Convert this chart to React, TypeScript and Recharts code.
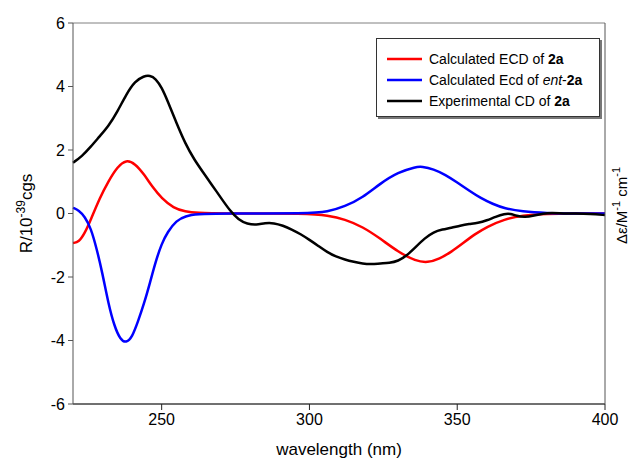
import React from "react";
import {
  LineChart,
  Line,
  XAxis,
  YAxis,
  CartesianGrid,
} from "recharts";

// calculated ECD of 2a
const redWl = [220, 222, 224, 226, 229, 232, 235, 238, 241, 244, 247, 250, 254, 258, 262, 270, 300, 306, 312, 318, 324, 330, 336, 340, 344, 348, 352, 356, 360, 366, 372, 380, 390, 400];
const redVal = [-0.93, -0.9, -0.62, -0.2, 0.48, 1.02, 1.47, 1.7, 1.57, 1.24, 0.82, 0.48, 0.17, 0.06, 0.02, 0, 0, -0.06, -0.18, -0.42, -0.79, -1.21, -1.5, -1.55, -1.43, -1.21, -0.93, -0.65, -0.42, -0.18, -0.06, -0.01, 0, 0];

// calculated ECD of ent-2a
const blueWl = [220, 222, 224, 226, 228, 230, 232, 234, 236, 238, 240, 242, 244, 246, 248, 250, 252, 255, 258, 262, 270, 300, 306, 312, 318, 324, 330, 336, 338, 342, 346, 350, 354, 358, 362, 366, 372, 380, 390, 400];
const blueVal = [0.18, 0.1, -0.1, -0.45, -1.1, -1.9, -2.85, -3.55, -3.97, -4.08, -3.9, -3.4, -2.85, -2.2, -1.5, -0.95, -0.58, -0.22, -0.08, -0.02, 0, 0, 0.05, 0.22, 0.5, 0.95, 1.3, 1.47, 1.48, 1.4, 1.22, 0.98, 0.72, 0.48, 0.3, 0.16, 0.06, 0.01, 0, 0];

// experimental CD of 2a
const blackWl = [220, 223, 226, 229, 232, 235, 238, 241, 244, 246, 248, 250, 252, 255, 258, 261, 264, 267, 270, 273, 276, 279, 282, 285, 288, 291, 294, 297, 300, 303, 306, 309, 312, 315, 318, 321, 324, 327, 330, 333, 336, 339, 342, 345, 348, 351, 354, 357, 360, 363, 366, 368, 370, 373, 376, 379, 382, 386, 390, 395, 400];
const blackVal = [1.6, 1.8, 2.1, 2.43, 2.75, 3.2, 3.75, 4.17, 4.33, 4.35, 4.25, 3.97, 3.55, 2.85, 2.2, 1.7, 1.3, 0.9, 0.5, 0.1, -0.2, -0.33, -0.36, -0.3, -0.3, -0.38, -0.5, -0.65, -0.83, -1.02, -1.22, -1.36, -1.45, -1.52, -1.58, -1.6, -1.57, -1.56, -1.5, -1.32, -1.05, -0.78, -0.58, -0.5, -0.45, -0.38, -0.33, -0.3, -0.22, -0.1, -0.01, 0, -0.08, -0.12, -0.06, 0, 0.02, 0, 0, -0.01, -0.05];

const xTicks = [250, 300, 350, 400];
const yTicks = [-6, -4, -2, 0, 2, 4, 6];

const toPoints = (wl: number[], v: number[]) => wl.map((w, i) => ({ wl: w, v: v[i] }));

const series = [
  { key: "red", color: "#ff0000", data: toPoints(redWl, redVal) },
  { key: "blue", color: "#0000ff", data: toPoints(blueWl, blueVal) },
  { key: "black", color: "#000000", data: toPoints(blackWl, blackVal) },
];

const font = "'Liberation Sans', Arial, sans-serif";

function LegendBox() {
  const rows = [
    { color: "#ff0000", text: <>Calculated ECD of <b>2a</b></> },
    { color: "#0000ff", text: <>Calculated Ecd of <i>ent</i>-<b>2a</b></> },
    { color: "#000000", text: <>Experimental CD of <b>2a</b></> },
  ];
  return (
    <div
      style={{
        position: "absolute",
        left: 376,
        top: 38,
        width: 224,
        height: 79,
        background: "#fff",
        border: "1px solid #333",
        boxShadow: "2px 2px 0 #777",
        fontFamily: font,
        fontSize: 14,
        color: "#000",
        boxSizing: "border-box",
        paddingTop: 9,
      }}
    >
      {rows.map((r, i) => (
        <div key={i} style={{ display: "flex", alignItems: "center", height: 21 }}>
          <svg width={52} height={6}>
            <line x1={10} x2={45} y1={3} y2={3} stroke={r.color} strokeWidth={2.5} />
          </svg>
          <span style={{ whiteSpace: "nowrap" }}>{r.text}</span>
        </div>
      ))}
    </div>
  );
}

export default function App() {
  return (
    <div style={{ position: "fixed", left: 0, top: 0, width: 639, height: 461, background: "#fff" }}>
      <LineChart width={639} height={461} margin={{ top: 23, right: 0, left: 0, bottom: 0 }}>
        <CartesianGrid horizontal vertical={false} stroke="#808080" strokeWidth={1} />
        <XAxis
          dataKey="wl"
          type="number"
          domain={[220, 400]}
          ticks={xTicks}
          allowDuplicatedCategory={false}
          height={57}
          stroke="#222"
          tickSize={6}
          tick={{ fill: "#000", fontSize: 16, fontFamily: font }}
          tickMargin={4}
          label={{ value: "wavelength (nm)", position: "insideBottom", offset: 6, fill: "#000", fontSize: 17, fontFamily: font }}
        />
        <YAxis
          yAxisId="l"
          type="number"
          domain={[-6, 6]}
          ticks={yTicks}
          width={73}
          stroke="#555"
          tickSize={5}
          tickMargin={3}
          tick={{ fill: "#000", fontSize: 16, fontFamily: font }}
          label={({ viewBox }: any) => (
            <text
              x={32}
              y={viewBox.y + viewBox.height / 2}
              transform={`rotate(-90, 32, ${viewBox.y + viewBox.height / 2})`}
              textAnchor="middle"
              fontSize={17}
              fontFamily={font}
              fill="#000"
            >
              R/10<tspan dy={-7} fontSize={12}>-39</tspan>
              <tspan dy={7}>cgs</tspan>
            </text>
          )}
        />
        <YAxis
          yAxisId="r"
          orientation="right"
          type="number"
          domain={[-6, 6]}
          ticks={yTicks}
          width={34}
          stroke="#555"
          tick={false}
          tickLine={false}
          label={({ viewBox }: any) => {
            const cx = 627;
            const cy = viewBox.y + viewBox.height / 2 - 8;
            return (
              <text
                x={cx}
                y={cy}
                transform={`rotate(-90, ${cx}, ${cy})`}
                textAnchor="middle"
                fontSize={15}
                fontFamily={font}
                fill="#000"
              >
                Δε/M<tspan dy={-7} fontSize={11}>-1</tspan>
                <tspan dy={7}> cm</tspan>
                <tspan dy={-7} fontSize={11}>-1</tspan>
              </text>
            );
          }}
        />
        {series.map((s) => (
          <Line
            key={s.key}
            yAxisId="l"
            data={s.data}
            dataKey="v"
            type="basis"
            stroke={s.color}
            strokeWidth={2.5}
            dot={false}
            activeDot={false}
            isAnimationActive={false}
            legendType="none"
          />
        ))}
      </LineChart>
      <LegendBox />
    </div>
  );
}
